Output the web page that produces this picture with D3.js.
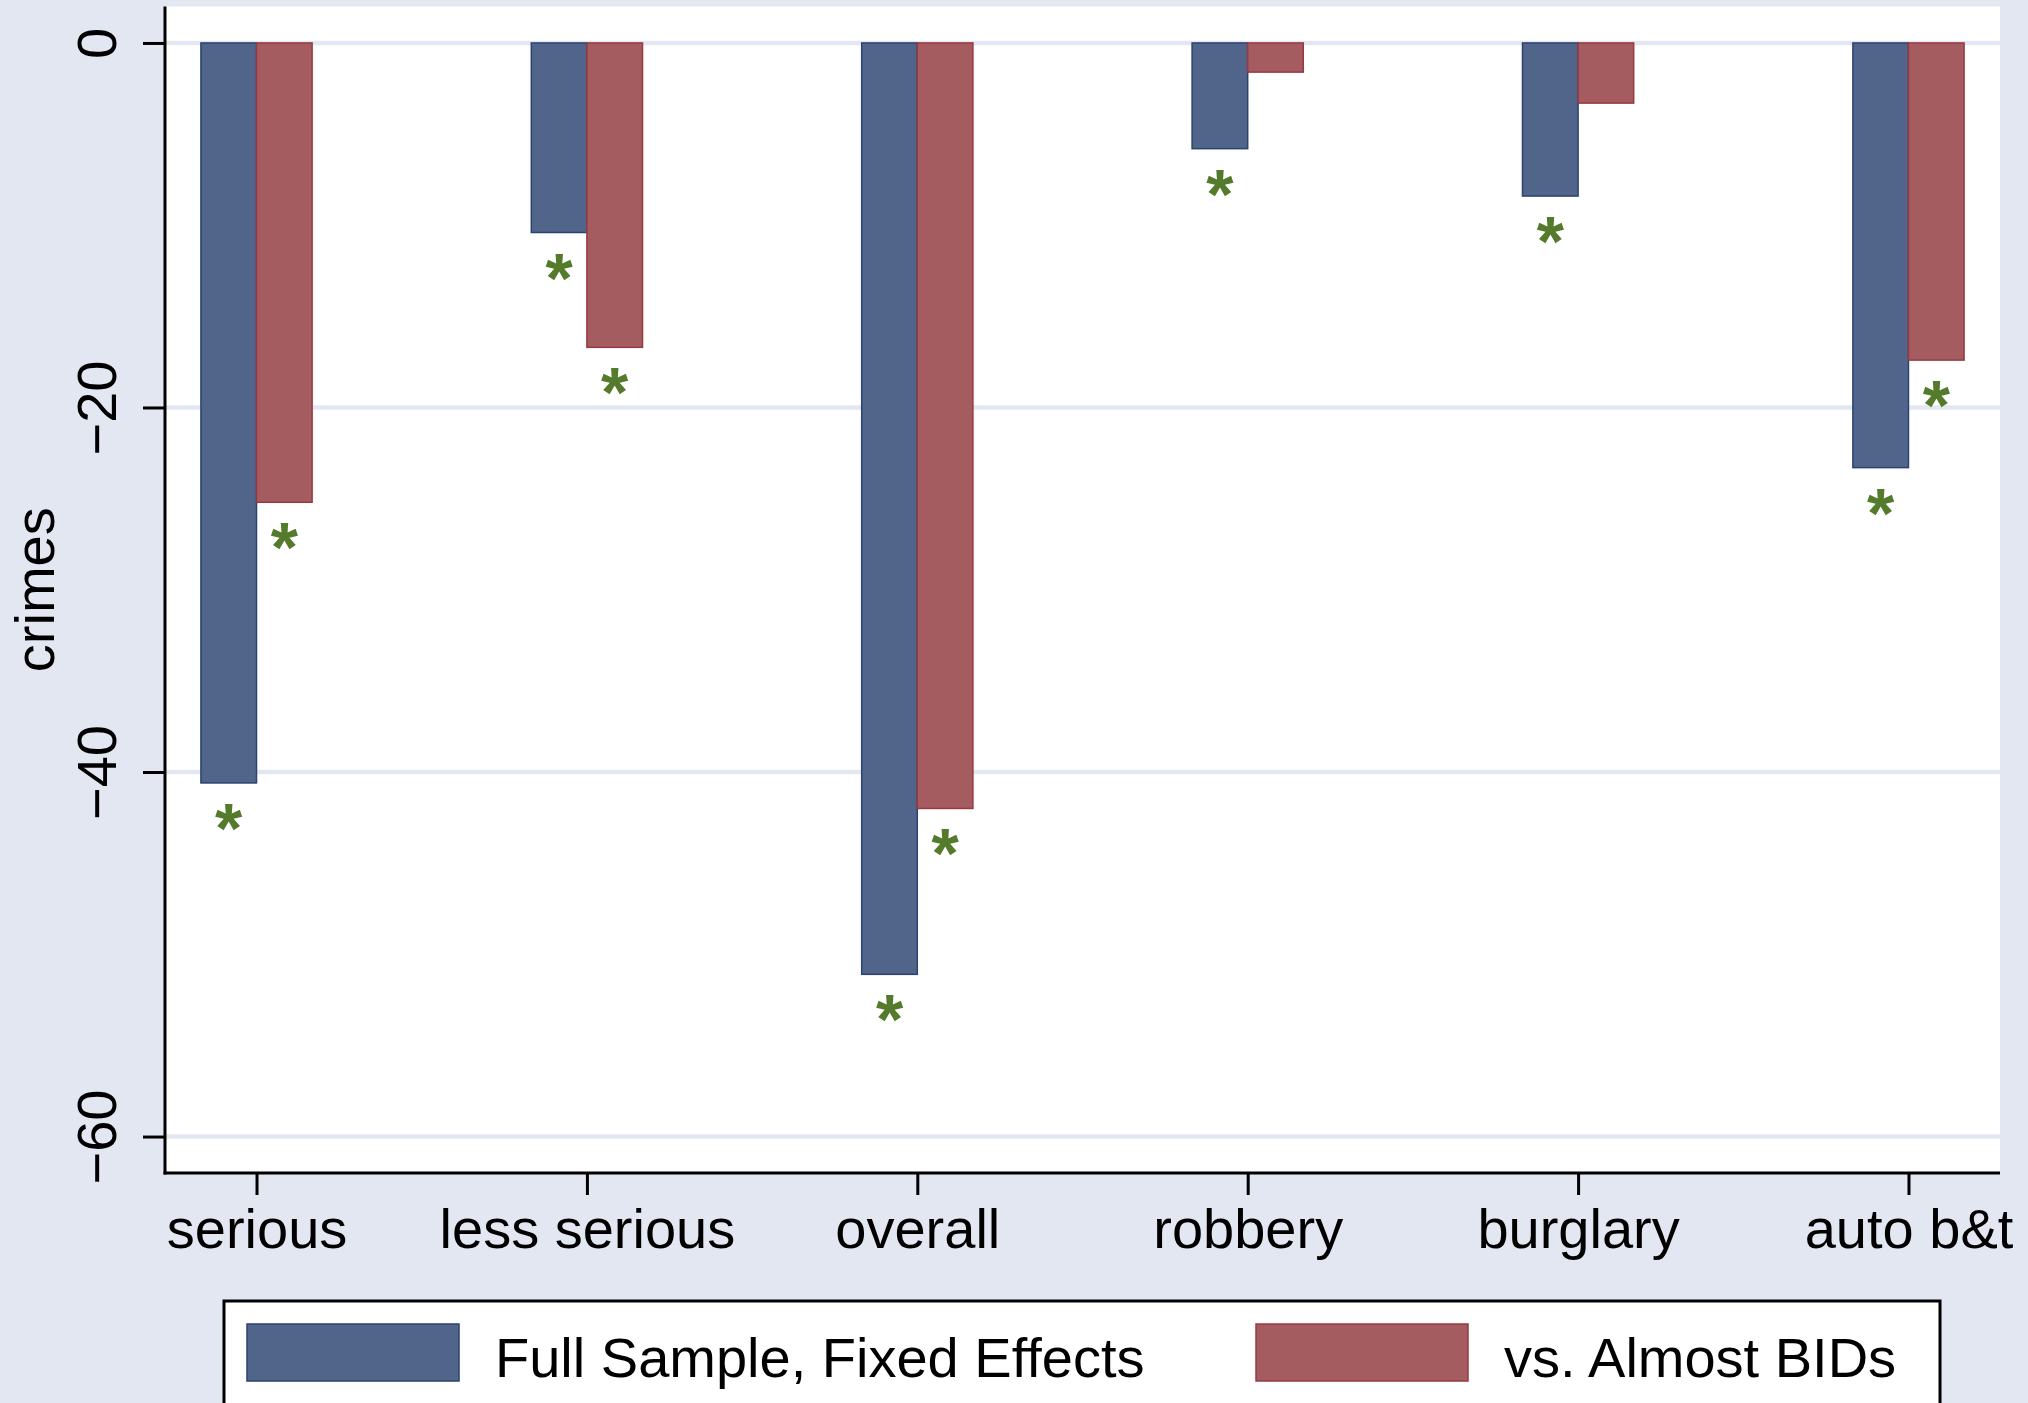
<!DOCTYPE html>
<html>
<head>
<meta charset="utf-8">
<script src="https://cdn.jsdelivr.net/npm/d3@7"></script>
<style>
  html, body { margin: 0; padding: 0; background: #e2e7f1; }
  svg { display: block; font-family: "Liberation Sans", Arial, Helvetica, sans-serif; }
</style>
</head>
<body>
<div id="chart"></div>
<script>
const categories = ["serious", "less serious", "overall", "robbery", "burglary", "auto b&t"];
const fullSample = [-40.6, -10.4, -51.1, -5.8, -8.4, -23.3];
const almostBids = [-25.2, -16.7, -42.0, -1.6, -3.3, -17.4];
// 1 = significant (asterisk drawn under bar)
const fullSig = [1, 1, 1, 1, 1, 1];
const almostSig = [1, 1, 1, 0, 0, 1];
const yTicks = [0, -20, -40, -60];
const seriesNames = ["Full Sample, Fixed Effects", "vs. Almost BIDs"];

const width = 2028;
const height = 1403;
const bg = "#e2e7f1";
const colors = ["#51658b", "#a55c60"];
const strokes = ["#2c4271", "#963a42"];
const starColor = "#547a2b";

const plotLeft = 165, plotRight = 2000, plotTop = 6.5, plotBottom = 1173;
const barW = 55.6;

const svg = d3.select("#chart").append("svg")
    .attr("width", width)
    .attr("height", height);

svg.append("rect")
    .attr("width", width).attr("height", height)
    .attr("fill", bg);

svg.append("rect")
    .attr("x", plotLeft).attr("y", plotTop)
    .attr("width", plotRight - plotLeft).attr("height", plotBottom - plotTop)
    .attr("fill", "#fff");

const x = d3.scalePoint()
    .domain(categories)
    .range([plotLeft, plotRight])
    .padding(0.277);

const y = d3.scaleLinear()
    .domain([-62, 2])
    .range([plotBottom, plotTop]);

// gridlines
svg.append("g")
  .selectAll("line")
  .data(yTicks)
  .join("line")
    .attr("x1", plotLeft).attr("x2", plotRight)
    .attr("y1", d => y(d)).attr("y2", d => y(d))
    .attr("stroke", bg)
    .attr("stroke-width", 4.5);

const rows = categories.map((c, i) => ({
  cat: c,
  vals: [fullSample[i], almostBids[i]],
  sig: [fullSig[i], almostSig[i]]
}));

// bars
const bars = svg.append("g");
rows.forEach(r => {
  r.vals.forEach((v, k) => {
    const x0 = x(r.cat) + (k === 0 ? -barW : 0);
    bars.append("rect")
        .attr("x", x0)
        .attr("y", y(0))
        .attr("width", barW)
        .attr("height", y(v) - y(0))
        .attr("fill", colors[k])
        .attr("stroke", strokes[k])
        .attr("stroke-width", 1.5);
  });
});

// significance stars
const stars = svg.append("g")
    .attr("fill", starColor)
    .attr("font-weight", "bold")
    .attr("font-size", 70)
    .attr("text-anchor", "middle");
rows.forEach(r => {
  r.vals.forEach((v, k) => {
    if (!r.sig[k]) return;
    const cx = x(r.cat) + (k === 0 ? -barW / 2 : barW / 2);
    stars.append("text")
        .attr("x", cx)
        .attr("y", y(v) + 70)
        .text("*");
  });
});

// y axis
const yAxis = svg.append("g")
    .attr("transform", `translate(${plotLeft},0)`)
    .call(d3.axisLeft(y).tickValues(yTicks).tickSize(22).tickPadding(0).tickFormat(d => d === 0 ? "0" : "\u2212" + Math.abs(d)));
yAxis.select(".domain").remove();
yAxis.selectAll(".tick line").attr("stroke", "#000").attr("stroke-width", 3);
yAxis.selectAll(".tick text")
    .attr("font-size", 56)
    .attr("fill", "#000")
    .attr("font-family", "\"Liberation Sans\", Arial, sans-serif")
    .attr("text-anchor", "middle")
    .attr("dy", 0)
    .attr("transform", "translate(-49,0) rotate(-90)")
    .attr("x", 0)
    .attr("y", 0);

svg.append("line")
    .attr("x1", plotLeft).attr("x2", plotLeft)
    .attr("y1", plotTop).attr("y2", plotBottom + 1.5)
    .attr("stroke", "#000").attr("stroke-width", 3);

// x axis
const xAxis = svg.append("g")
    .attr("transform", `translate(0,${plotBottom})`)
    .call(d3.axisBottom(x).tickSize(22).tickPadding(0));
xAxis.select(".domain").remove();
xAxis.selectAll(".tick line").attr("stroke", "#000").attr("stroke-width", 3);
xAxis.selectAll(".tick text")
    .attr("font-size", 56)
    .attr("fill", "#000")
    .attr("font-family", "\"Liberation Sans\", Arial, sans-serif")
    .attr("dy", 0)
    .attr("y", 75);

svg.append("line")
    .attr("x1", plotLeft - 1.5).attr("x2", plotRight)
    .attr("y1", plotBottom).attr("y2", plotBottom)
    .attr("stroke", "#000").attr("stroke-width", 3);

// y axis title
svg.append("text")
    .attr("transform", `translate(54,${(plotTop + plotBottom) / 2}) rotate(-90)`)
    .attr("text-anchor", "middle")
    .attr("font-size", 56)
    .text("crimes");

// legend
const legend = svg.append("g");
legend.append("rect")
    .attr("x", 224).attr("y", 1301)
    .attr("width", 1716).attr("height", 140)
    .attr("fill", "#fff")
    .attr("stroke", "#000")
    .attr("stroke-width", 3);

const legendX = [247, 1256];
seriesNames.forEach((name, k) => {
  legend.append("rect")
      .attr("x", legendX[k]).attr("y", 1324)
      .attr("width", 212).attr("height", 57)
      .attr("fill", colors[k])
      .attr("stroke", strokes[k])
      .attr("stroke-width", 1.5);
  legend.append("text")
      .attr("x", legendX[k] + 248)
      .attr("y", 1377)
      .attr("font-size", 56)
      .text(name);
});
</script>
</body>
</html>
